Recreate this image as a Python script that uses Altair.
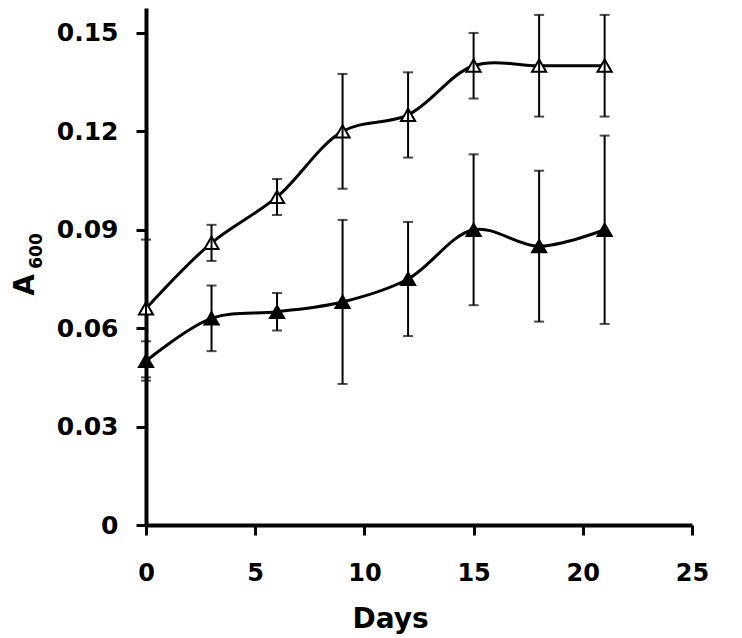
import altair as alt
import pandas as pd

days = [0, 3, 6, 9, 12, 15, 18, 21]
open_mean = [0.066, 0.086, 0.100, 0.120, 0.125, 0.140, 0.140, 0.140]
open_err = [0.021, 0.0055, 0.0055, 0.0175, 0.013, 0.010, 0.0155, 0.0155]
filled_mean = [0.050, 0.063, 0.065, 0.068, 0.075, 0.090, 0.085, 0.090]
filled_err = [0.006, 0.010, 0.0057, 0.025, 0.0174, 0.023, 0.023, 0.0287]
series_names = ["open", "filled"]
x_ticks = [0, 5, 10, 15, 20, 25]
y_ticks = [0, 0.03, 0.06, 0.09, 0.12, 0.15]
y_title_main = ["A"]
y_title_sub = ["600"]

rows = []
for name, means, errs in [(series_names[0], open_mean, open_err),
                          (series_names[1], filled_mean, filled_err)]:
    for d, m, e in zip(days, means, errs):
        rows.append({"day": d, "value": m, "err": e, "series": name})
df = pd.DataFrame(rows)

xscale = alt.Scale(domain=[0, 25], nice=False)
yscale = alt.Scale(domain=[0, 0.1576], nice=False)

xaxis = alt.Axis(values=x_ticks, title="Days", titleX=244, titleY=102,
                 titleAlign="center", titleBaseline="alphabetic",
                 titleFontSize=28, labelFontSize=24, labelPadding=26, labelFlush=False,
                 tickSize=10, tickWidth=3, domainWidth=4, grid=False)
yaxis = alt.Axis(values=y_ticks,
                 labelExpr="datum.value == 0 ? '0' : format(datum.value, '.2f')",
                 title=None, labelFontSize=25, labelPadding=18, labelFlush=False,
                 tickSize=10, tickWidth=3, domainWidth=4, grid=False)


def X():
    return alt.X("day:Q", scale=xscale, axis=xaxis)


def Y(field):
    return alt.Y(field, scale=yscale, axis=yaxis)


base = alt.Chart(df).transform_calculate(
    lo="datum.value - datum.err", hi="datum.value + datum.err"
)

line = base.mark_line(color="black", strokeWidth=3, interpolate="catmull-rom").encode(
    x=X(), y=Y("value:Q"), detail="series:N",
)

points = base.mark_point(shape="triangle-up", size=200, strokeWidth=2, opacity=1,
                         filled=True, stroke="black").encode(
    x=X(), y=Y("value:Q"),
    fill=alt.Fill("series:N", scale=alt.Scale(domain=series_names, range=["white", "black"]),
                  legend=None),
)

bars = base.mark_rule(color="black", strokeWidth=2).encode(
    x=X(), y=Y("lo:Q"), y2="hi:Q",
)

cap_lo = base.mark_tick(color="black", orient="horizontal", size=10, thickness=2).encode(
    x=X(), y=Y("lo:Q"),
)
cap_hi = base.mark_tick(color="black", orient="horizontal", size=10, thickness=2).encode(
    x=X(), y=Y("hi:Q"),
)

title_a = alt.Chart(pd.DataFrame({"t": y_title_main})).mark_text(
    angle=270, align="center", baseline="alphabetic", font="DejaVu Sans",
    fontWeight="bold", fontSize=28, color="black",
).encode(x=alt.value(-112), y=alt.value(277), text="t:N")

title_sub = alt.Chart(pd.DataFrame({"t": y_title_sub})).mark_text(
    angle=270, align="center", baseline="alphabetic", font="DejaVu Sans",
    fontWeight="bold", fontSize=17, color="black",
).encode(x=alt.value(-104), y=alt.value(243), text="t:N")

chart = alt.layer(line, points, bars, cap_lo, cap_hi, title_a, title_sub).properties(
    width=546, height=517,
    autosize=alt.AutoSizeParams(type="none"),
    padding={"left": 138, "top": 0, "right": 30, "bottom": 112},
).configure_view(stroke=None).configure_axis(
    labelFont="DejaVu Sans", labelFontWeight="bold", labelColor="black",
    titleFont="DejaVu Sans", titleFontWeight="bold", titleColor="black",
    domainColor="black", tickColor="black",
)

chart.save("out.html", embed_options={"renderer": "svg", "actions": False})
